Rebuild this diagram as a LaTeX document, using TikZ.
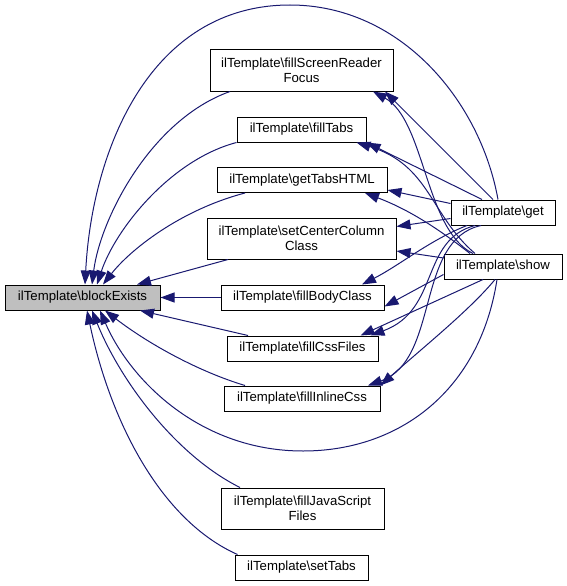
\documentclass[tikz,border=0pt]{standalone}
\usepackage{fontspec}
\setmainfont{Liberation Sans}
\usetikzlibrary{arrows.meta}
\definecolor{edgeblue}{HTML}{191970}
\definecolor{grayfill}{HTML}{BFBFBF}
\tikzset{
  nbox/.style={draw=black, fill=white, line width=1pt, inner sep=0pt,
    minimum height=25pt, align=center, font=\fontsize{13.2}{15}\selectfont},
  tallbox/.style={nbox, minimum height=41pt},
  conn/.style={draw=edgeblue, line width=1pt,
    -{Triangle[length=14pt,width=10pt]}, fill=none}
}
\begin{document}
\begin{tikzpicture}[x=1pt,y=-1pt]
\path[use as bounding box] (0,0) rectangle (567,586);

% nodes
\node[nbox, fill=grayfill, minimum width=155pt] (be) at (82.5,297.5) {ilTemplate\textbackslash blockExists};
\node[tallbox, minimum width=183pt] (fsrf) at (301.5,70.5) {ilTemplate\textbackslash fillScreenReader\\Focus};
\node[nbox, minimum width=129pt] (ft) at (301.5,129.5) {ilTemplate\textbackslash fillTabs};
\node[nbox, minimum width=170pt] (gth) at (302,180) {ilTemplate\textbackslash getTabsHTML};
\node[tallbox, minimum width=189pt] (sccc) at (301.5,238.5) {ilTemplate\textbackslash setCenterColumn\\Class};
\node[nbox, minimum width=163pt] (fbc) at (302.5,297.5) {ilTemplate\textbackslash fillBodyClass};
\node[nbox, minimum width=151pt] (fcf) at (302.5,348.5) {ilTemplate\textbackslash fillCssFiles};
\node[nbox, minimum width=156pt] (fic) at (302,398.5) {ilTemplate\textbackslash fillInlineCss};
\node[tallbox, minimum width=163pt] (fjs) at (302.5,508.5) {ilTemplate\textbackslash fillJavaScript\\Files};
\node[nbox, minimum width=133pt] (st) at (301.5,567.5) {ilTemplate\textbackslash setTabs};
\node[nbox, minimum width=104pt] (get) at (503,212.5) {ilTemplate\textbackslash get};
\node[nbox, minimum width=118pt] (show) at (503,266.5) {ilTemplate\textbackslash show};

% edges into blockExists
\draw[conn] ([xshift=-5pt]get.north) .. controls (480,100) and (400,5) .. (290,5)
  .. controls (150,5) and (92,150) .. ([xshift=2.5pt]be.north);
\draw[conn] ([xshift=-71.5pt]fsrf.south) .. controls (150,120) and (100,220) .. ([xshift=9.5pt]be.north);
\draw[conn] (ft.south west) .. controls (170,160) and (115,230) .. ([xshift=14.5pt]be.north);
\draw[conn] ([xshift=-57pt]gth.south) .. controls (180,210) and (130,250) .. ([xshift=20.5pt]be.north);
\draw[conn] ([xshift=-73.5pt]sccc.south) -- ([xshift=54.5pt]be.north);
\draw[conn] (fbc.west) -- (be.east);
\draw[conn] ([xshift=-54.5pt]fcf.north) -- ([xshift=57.5pt]be.south);
\draw[conn] ([xshift=-57pt]fic.north) .. controls (200,372) and (150,345) .. ([xshift=22.5pt]be.south);
\draw[conn] ([xshift=-6pt]show.south) .. controls (480,390) and (400,451) .. (303,451)
  .. controls (200,451) and (130,380) .. ([xshift=17.5pt]be.south);
\draw[conn] ([xshift=-62.5pt]fjs.north) .. controls (175,455) and (120,380) .. ([xshift=9.5pt]be.south);
\draw[conn] ([xshift=3pt]st.north west) .. controls (160,520) and (110,420) .. ([xshift=4.5pt]be.south);

% edges from get / show
\draw[conn] ([xshift=-10pt]get.north) -- ([xshift=83.5pt]fsrf.south);
\draw[conn] ([xshift=-30pt]show.north) .. controls (425,230) and (425,120) .. ([xshift=71.5pt]fsrf.south);
\draw[conn] ([xshift=-21pt]get.north) -- (ft.south east);
\draw[conn] ([xshift=-28pt]show.north) .. controls (430,215) and (430,165) .. ([xshift=55pt]ft.south);
\draw[conn] ([yshift=9pt]get.west) -- ([yshift=-10pt]gth.east);
\draw[conn] ([xshift=-33pt]show.north) .. controls (440,230) and (410,210) .. ([xshift=63pt]gth.south);
\draw[conn] ([yshift=-6pt]get.west) -- ([yshift=12pt]sccc.east);
\draw[conn] ([yshift=8.5pt]show.west) -- ([yshift=-12.5pt]sccc.east);
\draw[conn] ([xshift=-36pt]get.south) .. controls (430,240) and (400,265) .. ([xshift=59.5pt]fbc.north);
\draw[conn] ([yshift=-8pt]show.west) -- ([yshift=-9pt]fbc.east);
\draw[conn] ([xshift=-28pt]get.south) .. controls (420,240) and (440,310) .. ([xshift=68pt]fcf.north);
\draw[conn] ([xshift=-20pt]show.south) -- ([xshift=58pt]fcf.north);
\draw[conn] ([xshift=-22pt]get.south) .. controls (415,240) and (440,360) .. ([xshift=66pt]fic.north);
\draw[conn] ([xshift=-8pt]show.south) .. controls (470,310) and (420,350) .. (fic.north east);
\end{tikzpicture}
\end{document}
